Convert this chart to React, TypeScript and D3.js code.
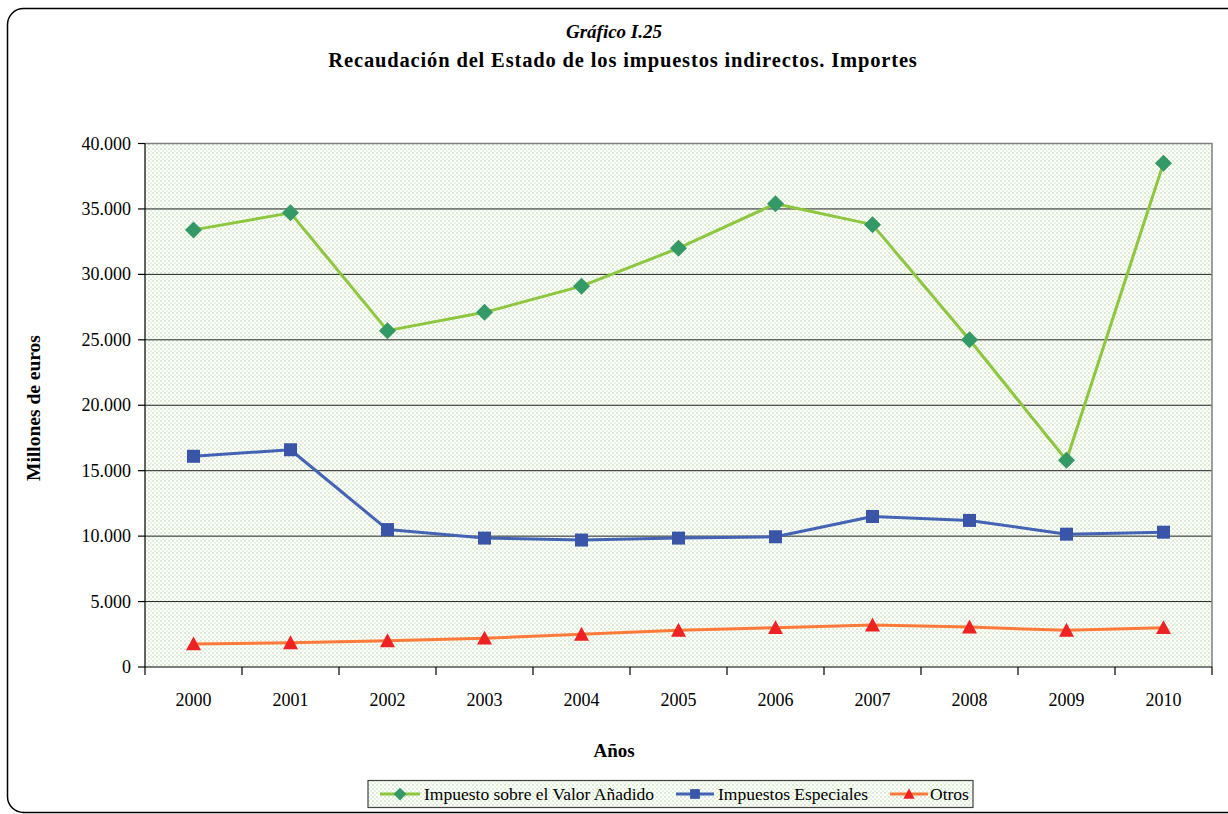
import React from "react";
import * as d3 from "d3";

const years = ["2000", "2001", "2002", "2003", "2004", "2005", "2006", "2007", "2008", "2009", "2010"];
const iva = [33400, 34700, 25700, 27100, 29100, 32000, 35400, 33800, 25000, 15800, 38500];
const especiales = [16100, 16600, 10500, 9850, 9700, 9850, 9950, 11500, 11200, 10150, 10300];
const otros = [1760, 1850, 2000, 2200, 2500, 2800, 3000, 3200, 3050, 2800, 3000];
const yTicks = [0, 5000, 10000, 15000, 20000, 25000, 30000, 35000, 40000];

const W = 1228, H = 814;
const left = 145, right = 1212, top = 143.5, bottom = 667;
const FONT = "'Liberation Serif', 'Times New Roman', serif";

const fmt = (v: number) => (v === 0 ? "0" : d3.format(",.0f")(v).replace(/,/g, "."));

export default function App() {
  const x = d3.scaleBand<string>().domain(years).range([left, right]).padding(0);
  const y = d3.scaleLinear().domain([0, 40000]).range([bottom, top]);
  const cx = (i: number) => (x(years[i]) as number) + x.bandwidth() / 2;
  const line = d3.line<number>().x((_, i) => cx(i)).y((d) => y(d));

  const series = [
    { name: "Impuesto sobre el Valor Añadido", data: iva, line: "#8dc63f", mark: "#339966", shape: "diamond" },
    { name: "Impuestos Especiales", data: especiales, line: "#4463b5", mark: "#3a55a8", shape: "square" },
    { name: "Otros", data: otros, line: "#ff7a3a", mark: "#ee2222", shape: "triangle" },
  ];

  const marker = (shape: string, px: number, py: number, color: string, key: any, s = 1) => {
    if (shape === "diamond") {
      const r = 8.5 * s;
      return <path key={key} d={`M${px},${py - r}L${px + r},${py}L${px},${py + r}L${px - r},${py}Z`} fill={color} />;
    }
    if (shape === "square") {
      const r = 6.5 * s;
      return <rect key={key} x={px - r} y={py - r} width={2 * r} height={2 * r} fill={color} />;
    }
    const r = 7.5 * s;
    return <path key={key} d={`M${px},${py - r}L${px + r},${py + r * 0.85}L${px - r},${py + r * 0.85}Z`} fill={color} />;
  };

  const legendItems = [
    { x1: 380, x2: 420, textX: 424 },
    { x1: 676, x2: 714, textX: 718 },
    { x1: 890, x2: 928, textX: 930 },
  ];

  return (
    <div style={{ position: "absolute", left: 0, top: 0 }}>
      <svg width={W} height={H} style={{ display: "block" }}>
        <defs>
          <pattern id="dots" width="4" height="4" patternUnits="userSpaceOnUse">
            <rect width="4" height="4" fill="#ffffff" />
            <rect x="0" y="0" width="2" height="2" fill="#dcedd3" />
            <rect x="2" y="2" width="2" height="2" fill="#e8f3e1" />
          </pattern>
        </defs>
        <rect x={0} y={0} width={W} height={H} fill="#ffffff" />
        <rect x={7.5} y={8.5} width={1260} height={804} rx={16} ry={16} fill="none" stroke="#000" strokeWidth={1.5} />

        <text x={614} y={38} textAnchor="middle" fontFamily={FONT} fontSize={19} fontStyle="italic" fontWeight="bold">Gráfico I.25</text>
        <text x={623} y={67} textAnchor="middle" fontFamily={FONT} fontSize={20.5} fontWeight="bold" letterSpacing={0.85}>Recaudación del Estado de los impuestos indirectos.  Importes</text>

        <rect x={left} y={top} width={right - left} height={bottom - top} fill="url(#dots)" />
        {yTicks.filter((t) => t > 0 && t < 40000).map((t) => (
          <line key={t} x1={left} x2={right} y1={y(t)} y2={y(t)} stroke="#222" strokeWidth={1} />
        ))}
        <path d={`M${left},${top}H${right}V${bottom}`} fill="none" stroke="#808080" strokeWidth={1.5} />
        <line x1={left} x2={left} y1={top} y2={bottom} stroke="#000" strokeWidth={1.2} />
        <line x1={left} x2={right} y1={bottom} y2={bottom} stroke="#000" strokeWidth={1.2} />
        {yTicks.map((t) => (
          <g key={t}>
            <line x1={left - 7} x2={left} y1={y(t)} y2={y(t)} stroke="#000" strokeWidth={1.2} />
            <text x={left - 14} y={y(t) + 6} textAnchor="end" fontFamily={FONT} fontSize={18}>{fmt(t)}</text>
          </g>
        ))}
        {years.map((yr, i) => (
          <g key={yr}>
            <line x1={x(yr) as number} x2={x(yr) as number} y1={bottom} y2={bottom + 8} stroke="#000" strokeWidth={1.2} />
            <text x={cx(i)} y={706} textAnchor="middle" fontFamily={FONT} fontSize={18}>{yr}</text>
          </g>
        ))}
        <line x1={right} x2={right} y1={bottom} y2={bottom + 8} stroke="#000" strokeWidth={1.2} />

        <text x={614} y={757} textAnchor="middle" fontFamily={FONT} fontSize={19} fontWeight="bold">Años</text>
        <text transform="translate(40,408) rotate(-90)" textAnchor="middle" fontFamily={FONT} fontSize={19.5} fontWeight="bold">Millones de euros</text>

        {series.map((s) => (
          <g key={s.name}>
            <path d={line(s.data) as string} fill="none" stroke={s.line} strokeWidth={3} strokeLinejoin="round" />
            {s.data.map((v, i) => marker(s.shape, cx(i), y(v), s.mark, i))}
          </g>
        ))}

        <rect x={368} y={780.5} width={605} height={27} fill="url(#dots)" stroke="#444" strokeWidth={1.2} />
        {series.map((s, i) => {
          const it = legendItems[i];
          return (
            <g key={s.name}>
              <line x1={it.x1} x2={it.x2} y1={794} y2={794} stroke={s.line} strokeWidth={3} />
              {marker(s.shape, (it.x1 + it.x2) / 2, 794, s.mark, "m", 0.75)}
              <text x={it.textX} y={800} fontFamily={FONT} fontSize={17.5}>{s.name}</text>
            </g>
          );
        })}
      </svg>
    </div>
  );
}
